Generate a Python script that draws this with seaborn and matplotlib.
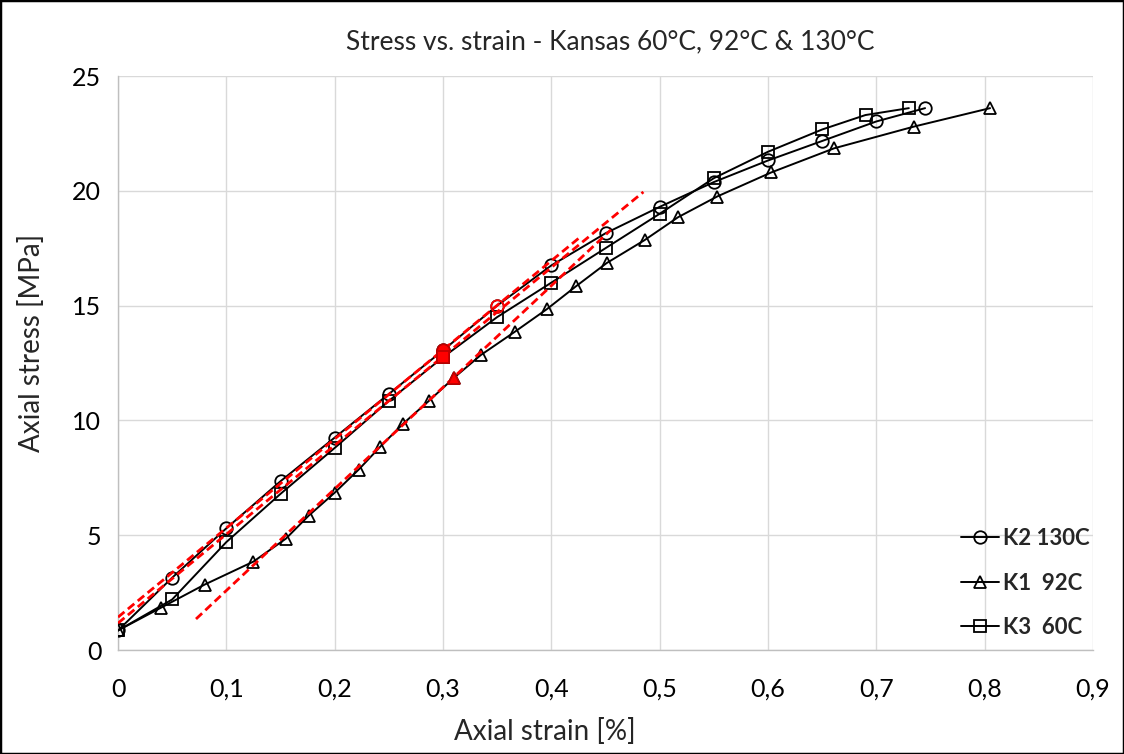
import matplotlib
matplotlib.use("Agg")
import matplotlib.pyplot as plt
import seaborn as sns
from matplotlib.patches import Rectangle
from matplotlib.ticker import FuncFormatter

# ---- data ----
k2_strain = [0, 0.05, 0.1, 0.15, 0.2, 0.25, 0.3, 0.35, 0.4, 0.45, 0.5, 0.55, 0.6, 0.65, 0.7, 0.745]
k2_stress = [0.85, 3.15, 5.3, 7.35, 9.25, 11.15, 13.05, 15.0, 16.75, 18.15, 19.3, 20.38, 21.32, 22.17, 23.02, 23.6]

k1_strain = [0, 0.04, 0.08, 0.125, 0.155, 0.176, 0.2, 0.222, 0.242, 0.263, 0.287, 0.31, 0.335,
             0.366, 0.396, 0.423, 0.451, 0.486, 0.517, 0.553, 0.603, 0.661, 0.735, 0.805]
k1_stress = [0.85, 1.85, 2.85, 3.85, 4.85, 5.85, 6.85, 7.85, 8.85, 9.85, 10.85, 11.85, 12.85,
             13.85, 14.85, 15.85, 16.85, 17.85, 18.85, 19.75, 20.8, 21.85, 22.8, 23.6]

k3_strain = [0, 0.05, 0.1, 0.15, 0.2, 0.25, 0.3, 0.35, 0.4, 0.45, 0.5, 0.55, 0.6, 0.65, 0.69, 0.73]
k3_stress = [0.85, 2.2, 4.7, 6.8, 8.8, 10.85, 12.75, 14.5, 16.0, 17.5, 19.0, 20.55, 21.7, 22.67, 23.3, 23.6]

# linear-fit (modulus) lines
fit_k2_x = [0.0, 0.427]
fit_k2_y = [1.43, 18.0]
fit_k3_x = [0.0, 0.485]
fit_k3_y = [1.17, 19.95]
fit_k1_x = [0.072, 0.455]
fit_k1_y = [1.35, 18.3]

# highlighted points
hl_k2_x = [0.3]; hl_k2_y = [13.05]
hl_k2_open_x = [0.35]; hl_k2_open_y = [15.0]
hl_k3_x = [0.3]; hl_k3_y = [12.75]
hl_k1_x = [0.31]; hl_k1_y = [11.85]

labels = ["K2 130C", "K1  92C", "K3  60C"]
x_ticks = [0, 0.1, 0.2, 0.3, 0.4, 0.5, 0.6, 0.7, 0.8, 0.9]
y_ticks = [0, 5, 10, 15, 20, 25]

# ---- style ----
sns.set_theme(style="white")
plt.rcParams["font.family"] = ["Lato", "DejaVu Sans"]

fig = plt.figure(figsize=(11.24, 7.54), dpi=100)
ax = fig.add_axes([118 / 1124, 1 - 650 / 754, (1093 - 118) / 1124, (650 - 76) / 754])

ms = 9
lw = 1.4
common = dict(color="black", linewidth=lw, markersize=ms, markerfacecolor="none",
              markeredgecolor="black", markeredgewidth=1.3, sort=False, ax=ax, zorder=3)
sns.lineplot(x=k2_strain, y=k2_stress, marker="o", label=labels[0], **common)
sns.lineplot(x=k1_strain, y=k1_stress, marker="^", label=labels[1], **common)
sns.lineplot(x=k3_strain, y=k3_stress, marker="s", label=labels[2], **common)

dash = (0, (3, 1.6))
for fx, fy in [(fit_k2_x, fit_k2_y), (fit_k3_x, fit_k3_y), (fit_k1_x, fit_k1_y)]:
    sns.lineplot(x=fx, y=fy, color="#ff0000", linewidth=2.0, linestyle=dash,
                 sort=False, ax=ax, legend=False, zorder=4)

hl = dict(color="#ff0000", linestyle="", markersize=ms, markeredgewidth=1.3,
          sort=False, ax=ax, legend=False, zorder=5)
sns.lineplot(x=hl_k2_x, y=hl_k2_y, marker="o", markerfacecolor="#ff0000", markeredgecolor="#c00000", **hl)
sns.lineplot(x=hl_k3_x, y=hl_k3_y, marker="s", markerfacecolor="#ff0000", markeredgecolor="#c00000", **hl)
sns.lineplot(x=hl_k1_x, y=hl_k1_y, marker="^", markerfacecolor="#ff0000", markeredgecolor="#c00000", **hl)
sns.lineplot(x=hl_k2_open_x, y=hl_k2_open_y, marker="o", markerfacecolor="none", markeredgecolor="#ff0000", **hl)

# axes
ax.set_xlim(0, 0.9)
ax.set_ylim(0, 25)
ax.set_xticks(x_ticks)
ax.set_yticks(y_ticks)

def comma_fmt(v, pos):
    s = f"{v:.1f}".rstrip("0").rstrip(".")
    return s.replace(".", ",")

ax.xaxis.set_major_formatter(FuncFormatter(comma_fmt))
ax.yaxis.set_major_formatter(FuncFormatter(lambda v, p: f"{int(round(v))}"))
ax.tick_params(axis="both", length=0, labelsize=18, colors="black")
ax.tick_params(axis="x", pad=20)
ax.tick_params(axis="y", pad=12)

ax.grid(True, color="#d9d9d9", linewidth=1.0)
ax.set_axisbelow(True)
for s in ["top", "right"]:
    ax.spines[s].set_visible(False)
for s in ["left", "bottom"]:
    ax.spines[s].set_color("#bfbfbf")
    ax.spines[s].set_linewidth(1.0)

ax.set_xlabel("Axial strain [%]", fontsize=20)
ax.set_ylabel("Axial stress [MPa]", fontsize=20)
ax.xaxis.set_label_coords((545 - 118) / 975, -(718 - 650) / 574)
ax.yaxis.set_label_coords(-(118 - 45) / 975, (650 - 343) / 574)
fig.text(610 / 1124, 1 - 42 / 754, "Stress vs. strain - Kansas 60°C, 92°C & 130°C",
         ha="center", va="center", fontsize=19)

leg = ax.legend(loc="center left", bbox_to_anchor=((941 - 118) / 975, (650 - 583) / 574),
                frameon=False, prop={"weight": "bold", "size": 16},
                labelspacing=1.05, handlelength=1.7, handletextpad=0.2)

fig.patches.append(Rectangle((0, 0), 1, 1, transform=fig.transFigure, fill=False,
                             edgecolor="black", linewidth=2.5, zorder=10))

fig.savefig("out.png", dpi=100)
